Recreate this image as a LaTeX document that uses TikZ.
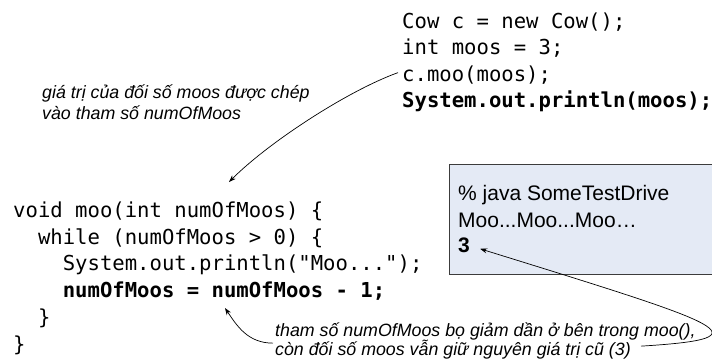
\documentclass[tikz,border=0pt]{standalone}
\usepackage{fontspec}
\setmainfont{Liberation Sans}
\newfontfamily\codefont{DejaVu Sans Mono}
\usetikzlibrary{arrows.meta,positioning}
\definecolor{boxfill}{RGB}{228,234,245}
\definecolor{boxline}{RGB}{60,60,60}

\begin{document}
\begin{tikzpicture}[x=1pt,y=-1pt,>={Stealth[length=7pt,width=5pt]}]
	\tikzstyle{codeline}=[anchor=base west,inner sep=0pt,font=\codefont\fontsize{20.6}{24}\selectfont]
	\tikzstyle{codebold}=[codeline,font=\codefont\bfseries\fontsize{20.6}{24}\selectfont]
	\tikzstyle{annot}=[anchor=base west,inner sep=0pt,font=\itshape\fontsize{17.8}{21}\selectfont]
	\tikzstyle{outline}=[anchor=base west,inner sep=0pt,font=\fontsize{21}{24}\selectfont]
	\tikzstyle{console}=[draw=boxline,fill=boxfill,line width=0.8pt,anchor=north west,minimum width=270pt,minimum height=110pt,inner sep=0pt]
	\tikzstyle{pointer}=[->,black,line width=0.7pt]
	
	\useasboundingbox (0,0) rectangle (712,360);
	\clip (0,0) rectangle (712,360);
	
	% Draw the calling code
	\foreach \name/\y/\txt in {1/28/{Cow c = new Cow();},2/54.5/{int moos = 3;},3/81/{c.moo(moos);}}
		\node[codeline] (C-\name) at (402,\y) {\txt};
	\node[codebold] (C-4) at (402,107.5) {System.out.println(moos);};
	
	% Draw the method body
	\foreach \name/\x/\y/\txt in {1/13/217.5/{void moo(int numOfMoos) \{},2/37.8/244.2/{while (numOfMoos > 0) \{},3/62.6/270.9/{System.out.println("Moo...");},5/37.8/324.3/{\}},6/13/351/{\}}}
		\node[codeline] (M-\name) at (\x,\y) {\txt};
	\node[codebold] (M-4) at (62.6,297.6) {numOfMoos = numOfMoos - 1;};
	
	% Draw the console output
	\node[console] (box) at (449,164) {};
	\foreach \name/\y/\txt in {1/200/{\% java SomeTestDrive},2/227/{Moo...Moo...Moo…}}
		\node[outline] (O-\name) at (458,\y) {\txt};
	\node[outline,font=\bfseries\fontsize{21}{24}\selectfont] (O-3) at (458,252) {3};
	
	% Annotate the arguments
	\node[annot] (copy-1) at (42,98) {giá trị của đối số moos được chép};
	\node[annot,below=21pt of copy-1.base west,anchor=base west] (copy-2) {vào tham số numOfMoos};
	\node[annot] (drop-1) at (275,336) {tham số numOfMoos bọ giảm dần ở bên trong moo(),};
	\node[annot,below=19pt of drop-1.base west,anchor=base west] (drop-2) {còn đối số moos vẫn giữ nguyên giá trị cũ (3)};
	
	% Connect the annotations
	\coordinate (param) at (229,182);
	\coordinate (dec) at (225,308);
	\draw[pointer] ([xshift=-4pt,yshift=2pt]C-3.west) .. controls +(-50,18) and +(40,-40) .. (param);
	\draw[pointer] ([xshift=-2pt,yshift=6pt]drop-2.west) .. controls +(-25,0) and +(12,18) .. (dec);
	\draw[pointer] ([xshift=10pt,yshift=3pt]drop-2.east) .. controls +(130,-8) and +(245,76) .. ([xshift=10pt,yshift=-4pt]O-3.east);
\end{tikzpicture}
\end{document}
